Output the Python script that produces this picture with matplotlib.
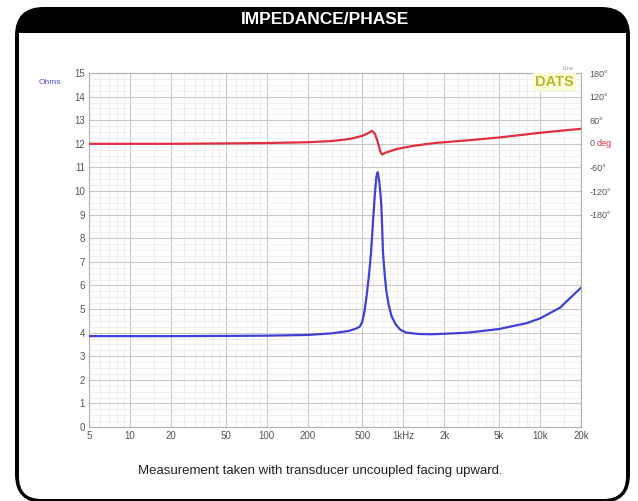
import numpy as np
import matplotlib
matplotlib.use('Agg')
from matplotlib import pyplot as plt
from matplotlib.patches import FancyBboxPatch, Rectangle
from matplotlib.ticker import FixedLocator, NullFormatter

# impedance magnitude (ohms)
imp_freq = [5, 10, 20, 50, 100, 200, 300, 400, 450, 480, 500, 520, 540, 560, 580,
            600, 620, 635, 650, 665, 680, 690, 700, 710, 730, 750, 780, 820, 880,
            950, 1050, 1300, 1600, 2000, 3000, 5000, 8000, 10000, 14000, 20000]
imp_ohms = [3.85, 3.85, 3.85, 3.86, 3.87, 3.9, 3.97, 4.07, 4.17, 4.25, 4.45, 4.9,
            5.6, 6.4, 7.35, 8.7, 9.9, 10.6, 10.8, 10.45, 9.9, 9.4, 8.5, 7.4, 6.5,
            5.8, 5.2, 4.7, 4.35, 4.12, 4.0, 3.94, 3.93, 3.95, 4.0, 4.15, 4.4, 4.6,
            5.05, 5.9]

# phase (degrees)
ph_freq = [5, 20, 50, 100, 200, 300, 400, 500, 560, 590, 620, 650, 680, 700, 750,
           900, 1200, 1700, 2000, 3000, 5000, 8000, 10000, 15000, 20000]
ph_deg = [0, 0, 1, 2, 4, 7, 12, 20, 28, 33, 25, 5, -20, -27, -22, -13, -5, 2, 4, 9,
          16, 24, 28, 34, 38]

x_ticks = [5, 10, 20, 50, 100, 200, 500, 1000, 2000, 5000, 10000, 20000]
x_labels = ['5', '10', '20', '50', '100', '200', '500', '1kHz', '2k', '5k', '10k', '20k']
ph_ticks = [180, 120, 60, 0, -60, -120, -180]
ph_labels = ['180\u00b0', '120\u00b0', '60\u00b0', '', '-60\u00b0', '-120\u00b0', '-180\u00b0']

W, H = 638, 501
fig = plt.figure(figsize=(W / 100, H / 100), dpi=100)
fig.patch.set_facecolor('white')

def fx(px):
    return px / W

def fy(py):
    return 1 - py / H

# frame
outer = FancyBboxPatch((fx(15), fy(503)), fx(615), 496 / H,
                       boxstyle='round,pad=0,rounding_size=0.045',
                       transform=fig.transFigure, facecolor='black', edgecolor='none',
                       mutation_aspect=W / H, zorder=-10)
inner = FancyBboxPatch((fx(19), fy(499)), fx(607), 466 / H,
                       boxstyle='round,pad=0,rounding_size=0.035',
                       transform=fig.transFigure, facecolor='white', edgecolor='none',
                       mutation_aspect=W / H, zorder=-9)
top_sq = Rectangle((fx(19), fy(70)), fx(607), 37 / H, transform=fig.transFigure,
                   facecolor='white', edgecolor='none', zorder=-8)
fig.patches.extend([outer, inner, top_sq])

fig.text(fx(325), fy(20), 'IMPEDANCE/PHASE', color='white', fontsize=12.5, fontweight='bold',
         ha='center', va='center', family=['Liberation Sans Narrow', 'Liberation Sans'])
fig.text(fx(320), fy(471), 'Measurement taken with transducer uncoupled facing upward.',
         color='#222222', fontsize=9.5, ha='center', va='center', family='Liberation Sans')

ax = fig.add_axes([fx(89), fy(427), fx(581 - 89), (427 - 73) / H])
ax.set_xscale('log')
ax.set_xlim(5, 20000)
ax.set_ylim(0, 15)

minor_x = [m * 10 ** e for e in range(0, 5) for m in range(1, 10)]
minor_x += [m * 10 ** e + 0.5 * 10 ** e for e in range(0, 5) for m in range(1, 5)]
minor_x = [v for v in minor_x if 5 <= v <= 20000]
ax.xaxis.set_minor_locator(FixedLocator(minor_x))
ax.xaxis.set_minor_formatter(NullFormatter())
ax.set_xticks(x_ticks)
ax.set_xticklabels(x_labels)
ax.set_yticks(range(0, 16))
ax.yaxis.set_minor_locator(FixedLocator(np.arange(0, 15.01, 0.25)))
ax.grid(True, which='major', color='#c9c9c9', linewidth=0.8)
ax.grid(True, which='minor', color='#ececec', linewidth=0.6)
ax.set_axisbelow(True)
ax.tick_params(which='both', length=0, labelsize=7, labelcolor='#555555', pad=3)
for lab in ax.get_xticklabels() + ax.get_yticklabels():
    lab.set_family('Liberation Sans')
for s in ax.spines.values():
    s.set_color('#b0b0b0')
    s.set_linewidth(0.8)

ax.plot(imp_freq, imp_ohms, color='#4040d8', linewidth=1.6, zorder=3)

ax2 = ax.twinx()
ax2.set_ylim(-720, 180)
ax2.set_yticks(ph_ticks)
ax2.set_yticklabels(ph_labels)
ax2.tick_params(length=0, labelsize=6.5, labelcolor='#555555', pad=6)
for lab in ax2.get_yticklabels():
    lab.set_family('Liberation Sans')
for s in ax2.spines.values():
    s.set_visible(False)
ax2.plot(ph_freq, ph_deg, color='#e03040', linewidth=1.6, zorder=3)
ax2.annotate('0', (1.0, 0), xycoords=ax2.get_yaxis_transform(), xytext=(6, 0),
             textcoords='offset points', color='#555555', fontsize=6.5, va='center',
             ha='left', family='Liberation Sans')
ax2.annotate('deg', (1.0, 0), xycoords=ax2.get_yaxis_transform(), xytext=(11, 0),
             textcoords='offset points', color='#e03040', fontsize=6.5, va='center',
             ha='left', family='Liberation Sans')

fig.text(fx(50), fy(83), 'Ohms', color='#5050e0', fontsize=6, ha='center', va='center',
         family='Liberation Sans')
fig.text(fx(574), fy(68), 'Line', color='#999999', fontsize=4, ha='right', va='center')
ax.text(0.985, 0.995, 'DATS', transform=ax.transAxes, color='#b8b82a', fontsize=10.5,
        fontweight='bold', ha='right', va='top', family='Liberation Sans',
        bbox=dict(facecolor='#fbfbd8', edgecolor='none', pad=1.5), zorder=5)

fig.savefig('out.png', dpi=100)
